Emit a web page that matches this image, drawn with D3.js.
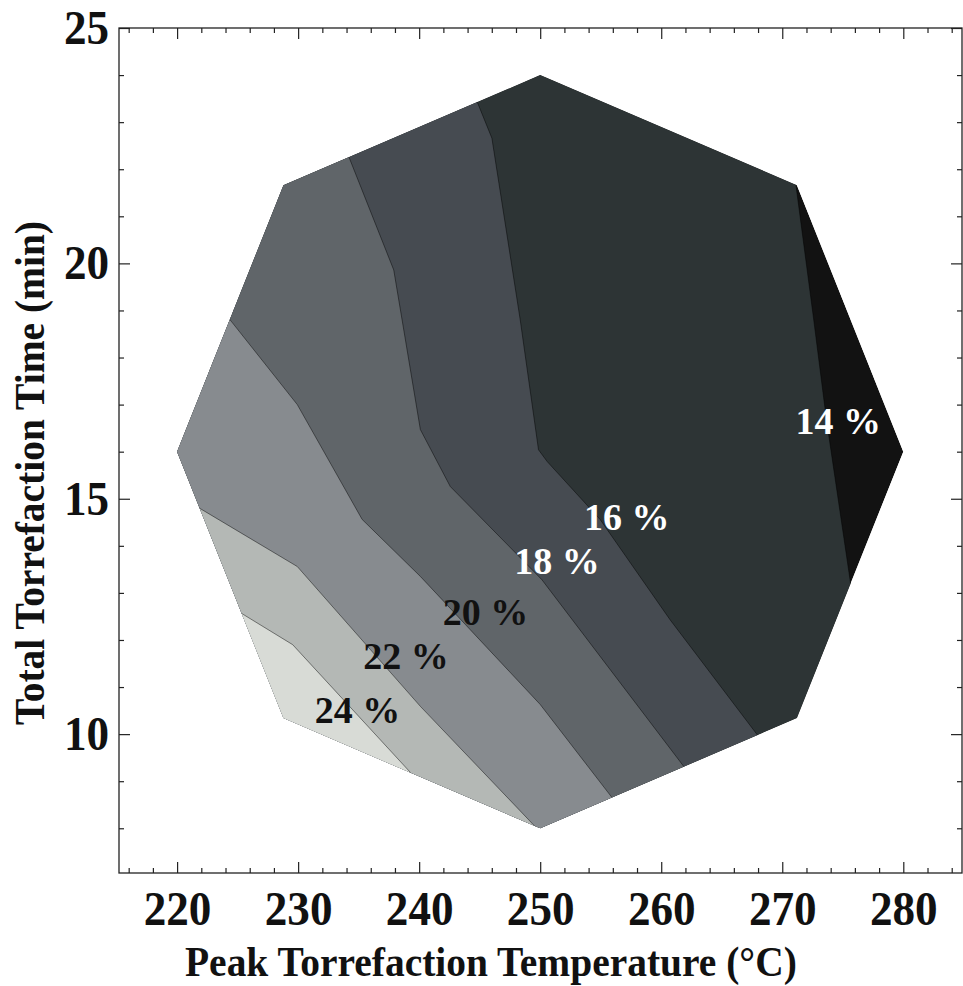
<!DOCTYPE html>
<html>
<head>
<meta charset="utf-8">
<script src="https://cdn.jsdelivr.net/npm/d3@7"></script>
<style>
  html, body { margin: 0; padding: 0; background: #fff; }
  text { font-family: "Liberation Serif", "Times New Roman", serif; font-weight: bold; }
</style>
</head>
<body>
<div id="chart"></div>
<script>
// contour levels (%) and band colours, from lowest band (<14) to highest (>24)
const levels = [14, 16, 18, 20, 22, 24];
const bandColors = ['#121212', '#2d3435', '#464b51', '#606569', '#878b8f', '#b4b8b5', '#d8dbd6'];

// design region (peak temperature °C, time min)
const region = [[280, 16], [271.21, 21.66], [250, 24], [228.79, 21.66],
  [220, 16], [228.79, 10.34], [250, 8], [271.21, 10.34]];

// contour lines: [temperature, time]
const line14 = [[271.1, 21.72], [272.6, 18.8], [273.65, 16.68], [275.6, 13.28]];
const line16 = [[244.78, 23.44], [246.01, 22.66], [248.35, 18.8], [249.86, 16.04], [250.58, 15.79],
  [254.95, 14.56], [260.73, 12.43], [268.01, 9.96]];
const line18 = [[234.18, 22.27], [237.9, 19.86], [238.59, 18.8], [240.1, 16.47], [242.57, 15.26],
  [250.14, 13.28], [261.96, 9.28]];
const line20 = [[224.38, 18.8], [229.93, 17.0], [235.29, 14.56], [240.1, 13.35], [250.0, 10.63], [256.0, 8.63]];
const line22 = [[221.85, 14.8], [229.93, 13.56], [240.1, 10.59], [249.83, 7.97]];
const line24 = [[225.42, 12.55], [229.55, 11.9], [239.55, 9.11]];
const contourLines = [line14, line16, line18, line20, line22, line24];

// label anchors for each level
const labelPos = [[274.63, 16.65], [257.15, 14.61], [251.38, 13.69], [245.49, 12.61], [238.92, 11.67], [234.9, 10.52]];
const labelFill = ['#fff', '#fff', '#fff', '#111', '#111', '#111'];

const tempTicks = [220, 230, 240, 250, 260, 270, 280];
const timeTicks = [10, 15, 20, 25];

const W = 963, H = 986;
const x = d3.scaleLinear().domain([215.2, 284.85]).range([119, 962]);
const y = d3.scaleLinear().domain([7.05, 25]).range([873, 28]);

const svg = d3.select('#chart').append('svg')
  .attr('width', W).attr('height', H);

svg.append('clipPath').attr('id', 'oct')
  .append('polygon')
  .attr('points', region.map(d => [x(d[0]), y(d[1])].join(',')).join(' '));

const plot = svg.append('g').attr('clip-path', 'url(#oct)');

// base band (below 14 %)
plot.append('polygon')
  .attr('points', region.map(d => [x(d[0]), y(d[1])].join(',')).join(' '))
  .attr('fill', bandColors[0]);

// push the ends of a line well outside the region so the clip trims it
function extend(pts) {
  const p = pts.map(d => [x(d[0]), y(d[1])]);
  const far = (a, b) => {
    const dx = a[0] - b[0], dy = a[1] - b[1], L = Math.hypot(dx, dy);
    return [a[0] + dx / L * 3000, a[1] + dy / L * 3000];
  };
  return [far(p[0], p[1]), ...p, far(p[p.length - 1], p[p.length - 2])];
}

contourLines.forEach((ln, i) => {
  const e = extend(ln);
  const poly = [...e, [-5000, 6000], [-5000, -5000]];
  plot.append('polygon')
    .attr('points', poly.map(d => d.join(',')).join(' '))
    .attr('fill', bandColors[i + 1]);
});

const line = d3.line();
contourLines.forEach(ln => {
  plot.append('path')
    .attr('d', line(extend(ln)))
    .attr('fill', 'none')
    .attr('stroke', 'rgba(0,0,0,0.45)')
    .attr('stroke-width', 1);
});

// contour labels
svg.append('g').selectAll('text')
  .data(levels)
  .join('text')
  .attr('x', (d, i) => x(labelPos[i][0]))
  .attr('y', (d, i) => y(labelPos[i][1]))
  .attr('dy', '0.35em')
  .attr('text-anchor', 'middle')
  .attr('font-size', 38)
  .attr('fill', (d, i) => labelFill[i])
  .text(d => d + ' %');

// axes: ticks on all four sides, pointing inward
const tempMinor = d3.range(216, 285, 2).filter(v => v % 10 !== 0);
const timeMinor = d3.range(8, 25, 1).filter(v => v % 5 !== 0);
const squeeze = 0.94;  // lettering is a slightly condensed serif

function styleAxis(g) {
  g.select('.domain').remove();
  g.selectAll('line').attr('stroke', '#222').attr('stroke-width', 1.2);
  g.selectAll('text').attr('font-size', 48).attr('fill', '#111');
}

svg.append('g').attr('transform', 'translate(0,873)')
  .call(d3.axisBottom(x).tickValues(tempTicks).tickSize(-11).tickPadding(18).tickFormat(d3.format('d')))
  .call(styleAxis)
  .call(g => g.selectAll('text').attr('transform', `scale(${squeeze},1)`));
svg.append('g').attr('transform', 'translate(0,873)')
  .call(d3.axisBottom(x).tickValues(tempMinor).tickSize(-5).tickFormat(''))
  .call(styleAxis);
svg.append('g').attr('transform', 'translate(0,28)')
  .call(d3.axisTop(x).tickValues(tempTicks).tickSize(-11).tickFormat(''))
  .call(styleAxis);
svg.append('g').attr('transform', 'translate(0,28)')
  .call(d3.axisTop(x).tickValues(tempMinor).tickSize(-5).tickFormat(''))
  .call(styleAxis);

svg.append('g').attr('transform', 'translate(119,0)')
  .call(d3.axisLeft(y).tickValues(timeTicks).tickSize(-11).tickFormat(d3.format('d')))
  .call(styleAxis)
  .call(g => g.selectAll('text')
    .attr('x', -10 / squeeze)
    .attr('transform', `scale(${squeeze},1)`));
svg.append('g').attr('transform', 'translate(119,0)')
  .call(d3.axisLeft(y).tickValues(timeMinor).tickSize(-5).tickFormat(''))
  .call(styleAxis);
svg.append('g').attr('transform', 'translate(962,0)')
  .call(d3.axisRight(y).tickValues(timeTicks).tickSize(-11).tickFormat(''))
  .call(styleAxis);
svg.append('g').attr('transform', 'translate(962,0)')
  .call(d3.axisRight(y).tickValues(timeMinor).tickSize(-5).tickFormat(''))
  .call(styleAxis);

// frame
svg.append('rect')
  .attr('x', 119).attr('y', 28)
  .attr('width', 962 - 119).attr('height', 873 - 28)
  .attr('fill', 'none').attr('stroke', '#222').attr('stroke-width', 1.3);

// axis titles
svg.append('text')
  .attr('transform', 'translate(185,976) scale(0.94,1)')
  .attr('font-size', 42)
  .attr('fill', '#111')
  .text('Peak Torrefaction Temperature (°C)');

svg.append('text')
  .attr('transform', 'translate(44,473) rotate(-90) scale(0.94,1)')
  .attr('text-anchor', 'middle')
  .attr('font-size', 42)
  .attr('fill', '#111')
  .text('Total Torrefaction Time (min)');
</script>
</body>
</html>
